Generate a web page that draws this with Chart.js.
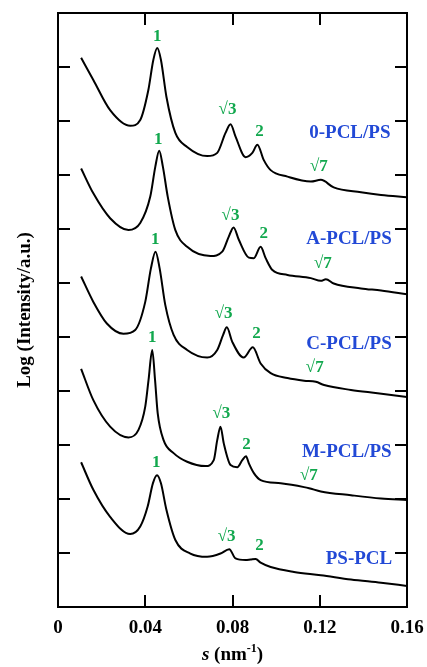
<!DOCTYPE html>
<html>
<head>
<meta charset="utf-8">
<script src="https://cdn.jsdelivr.net/npm/chart.js@4.4.1/dist/chart.umd.min.js"></script>
<style>
  html, body { margin: 0; padding: 0; background: #fff; }
  #wrap { width: 427px; height: 667px; }
</style>
</head>
<body>
<div id="wrap"><canvas id="saxsChart"></canvas></div>
<script>
// s (nm^-1) and log intensity (offset, one tick = 1 unit) for each sample
const s0PCL = [0.0106, 0.0162, 0.0239, 0.0331, 0.0377, 0.0414, 0.0437, 0.0455, 0.0472, 0.0497, 0.0538, 0.0592, 0.0684, 0.0730, 0.0768, 0.0791, 0.0814, 0.0860, 0.0891, 0.0914, 0.0943, 0.0975, 0.1052, 0.1159, 0.1205, 0.1264, 0.1389, 0.1481, 0.1600];
const i0PCL = [10.17, 9.76, 9.20, 8.91, 9.02, 9.57, 10.13, 10.35, 10.13, 9.45, 8.78, 8.52, 8.35, 8.41, 8.78, 8.94, 8.71, 8.33, 8.41, 8.56, 8.28, 8.09, 7.97, 7.88, 7.91, 7.77, 7.68, 7.63, 7.59];

const sAPCL = [0.0106, 0.0162, 0.0239, 0.0323, 0.0377, 0.0423, 0.0446, 0.0464, 0.0481, 0.0503, 0.0538, 0.0592, 0.0699, 0.0753, 0.0783, 0.0805, 0.0829, 0.0875, 0.0898, 0.0929, 0.0952, 0.0983, 0.1052, 0.1159, 0.1205, 0.1228, 0.1264, 0.1389, 0.1481, 0.1600];
const iAPCL = [8.12, 7.66, 7.20, 6.98, 7.11, 7.60, 8.15, 8.45, 8.15, 7.60, 6.98, 6.67, 6.50, 6.58, 6.86, 7.03, 6.80, 6.47, 6.46, 6.67, 6.46, 6.24, 6.15, 6.09, 6.04, 6.07, 5.99, 5.90, 5.86, 5.79];

const sCPCL = [0.0106, 0.0162, 0.0224, 0.0300, 0.0354, 0.0400, 0.0426, 0.0447, 0.0466, 0.0492, 0.0530, 0.0592, 0.0684, 0.0730, 0.0757, 0.0774, 0.0799, 0.0851, 0.0893, 0.0929, 0.0975, 0.1052, 0.1128, 0.1182, 0.1220, 0.1343, 0.1465, 0.1600];
const iCPCL = [6.12, 5.65, 5.25, 5.06, 5.13, 5.65, 6.27, 6.58, 6.27, 5.59, 5.04, 4.76, 4.62, 4.76, 5.04, 5.18, 4.91, 4.62, 4.81, 4.51, 4.33, 4.24, 4.19, 4.17, 4.11, 4.02, 3.96, 3.89];

const sMPCL = [0.0106, 0.0162, 0.0239, 0.0323, 0.0369, 0.0400, 0.0415, 0.0432, 0.0445, 0.0457, 0.0484, 0.0530, 0.0592, 0.0676, 0.0714, 0.0730, 0.0745, 0.0760, 0.0791, 0.0822, 0.0845, 0.0862, 0.0875, 0.0898, 0.0929, 0.1021, 0.1128, 0.1151, 0.1205, 0.1343, 0.1481, 0.1600];
const iMPCL = [4.41, 3.83, 3.34, 3.14, 3.28, 3.71, 4.20, 4.76, 4.20, 3.59, 3.09, 2.85, 2.69, 2.61, 2.72, 3.09, 3.34, 3.03, 2.63, 2.59, 2.72, 2.79, 2.66, 2.48, 2.35, 2.29, 2.22, 2.20, 2.14, 2.07, 2.01, 1.98];

const sPSPCL = [0.0106, 0.0162, 0.0239, 0.0331, 0.0377, 0.0411, 0.0435, 0.0454, 0.0472, 0.0497, 0.0538, 0.0607, 0.0684, 0.0745, 0.0785, 0.0814, 0.0860, 0.0883, 0.0906, 0.0929, 0.0975, 0.1082, 0.1205, 0.1343, 0.1481, 0.1600];
const iPSPCL = [2.68, 2.17, 1.67, 1.35, 1.49, 1.86, 2.29, 2.44, 2.29, 1.80, 1.24, 0.99, 0.93, 0.99, 1.07, 0.90, 0.87, 0.88, 0.89, 0.82, 0.74, 0.65, 0.59, 0.51, 0.45, 0.39];

const xTickValues = [0, 0.04, 0.08, 0.12, 0.16];
const yTickValues = [0, 1, 2, 3, 4, 5, 6, 7, 8, 9, 10, 11];

// peak index labels: text, s, log I
const peakText = ['1', '√3', '2', '√7', '1', '√3', '2', '√7', '1', '√3', '2', '√7', '1', '√3', '2', '√7', '1', '√3', '2'];
const peakS = [0.0455, 0.0777, 0.0924, 0.1196, 0.0460, 0.0791, 0.0943, 0.1214, 0.0446, 0.0759, 0.0910, 0.1177, 0.0432, 0.0749, 0.0864, 0.1150, 0.0450, 0.0773, 0.0924];
const peakI = [10.57, 9.22, 8.80, 8.15, 8.65, 7.24, 6.91, 6.35, 6.80, 5.44, 5.06, 4.44, 4.98, 3.59, 3.00, 2.43, 2.67, 1.31, 1.13];

const sampleNames = ['0-PCL/PS', 'A-PCL/PS', 'C-PCL/PS', 'M-PCL/PS', 'PS-PCL'];
const nameS = [0.1338, 0.1334, 0.1334, 0.1324, 0.1380];
const nameI = [8.78, 6.81, 4.87, 2.87, 0.89];

const SERIF = '"Liberation Serif", "Times New Roman", serif';
const GREEN = '#12a84e';
const BLUE = '#2249d6';

function pts(xs, ys) {
  return xs.map((x, i) => ({ x: x, y: ys[i] }));
}

const frameAndLabels = {
  id: 'frameAndLabels',
  afterDatasetsDraw(chart) {
    const ctx = chart.ctx;
    const a = chart.chartArea;
    const xs = chart.scales.x, ys = chart.scales.y;
    const tl = 12;
    ctx.save();
    ctx.strokeStyle = '#000';
    ctx.lineWidth = 2;
    ctx.strokeRect(a.left, a.top, a.right - a.left, a.bottom - a.top);
    ctx.beginPath();
    yTickValues.forEach(v => {
      const py = Math.round(ys.getPixelForValue(v));
      ctx.moveTo(a.left, py); ctx.lineTo(a.left + tl, py);
      ctx.moveTo(a.right, py); ctx.lineTo(a.right - tl, py);
    });
    xTickValues.forEach(v => {
      const px = Math.round(xs.getPixelForValue(v));
      ctx.moveTo(px, a.top); ctx.lineTo(px, a.top + tl);
      ctx.moveTo(px, a.bottom); ctx.lineTo(px, a.bottom - tl);
    });
    ctx.stroke();

    ctx.textAlign = 'center';
    ctx.textBaseline = 'middle';
    ctx.fillStyle = GREEN;
    ctx.font = 'bold 17px ' + SERIF;
    peakText.forEach((t, i) => {
      ctx.fillText(t, xs.getPixelForValue(peakS[i]), ys.getPixelForValue(peakI[i]));
    });
    ctx.fillStyle = BLUE;
    ctx.font = 'bold 19px ' + SERIF;
    sampleNames.forEach((t, i) => {
      ctx.fillText(t, xs.getPixelForValue(nameS[i]), ys.getPixelForValue(nameI[i]));
    });

    // x axis title: s (nm-1) with italic s and superscript
    const parts = [
      { t: 's', f: 'italic bold 19px ' + SERIF, dy: 0 },
      { t: ' (nm', f: 'bold 19px ' + SERIF, dy: 0 },
      { t: '-1', f: 'bold 12px ' + SERIF, dy: -8 },
      { t: ')', f: 'bold 19px ' + SERIF, dy: 0 }
    ];
    let total = 0;
    parts.forEach(p => { ctx.font = p.f; p.w = ctx.measureText(p.t).width; total += p.w; });
    let cx = (a.left + a.right) / 2 - total / 2;
    const base = 660;
    ctx.fillStyle = '#000';
    ctx.textAlign = 'left';
    ctx.textBaseline = 'alphabetic';
    parts.forEach(p => {
      ctx.font = p.f;
      ctx.fillText(p.t, cx, base + p.dy);
      cx += p.w;
    });
    ctx.restore();
  }
};

const line = (xs, ys) => ({
  data: pts(xs, ys),
  borderColor: '#000',
  borderWidth: 2,
  pointRadius: 0,
  fill: false,
  cubicInterpolationMode: 'monotone'
});

new Chart(document.getElementById('saxsChart'), {
  type: 'line',
  data: {
    datasets: [
      line(s0PCL, i0PCL),
      line(sAPCL, iAPCL),
      line(sCPCL, iCPCL),
      line(sMPCL, iMPCL),
      line(sPSPCL, iPSPCL)
    ]
  },
  options: {
    responsive: true,
    maintainAspectRatio: false,
    animation: false,
    layout: { padding: { top: 13, right: 20, left: 0, bottom: 0 } },
    scales: {
      x: {
        type: 'linear',
        min: 0,
        max: 0.16,
        afterBuildTicks: (s) => { s.ticks = xTickValues.map(v => ({ value: v })); },
        afterFit: (s) => { s.height = 60; s.paddingLeft = 0; s.paddingRight = 0; },
        grid: { display: false, drawTicks: false },
        border: { display: false },
        ticks: {
          padding: 10,
          color: '#000',
          font: { family: SERIF, size: 19, weight: 'bold' },
          callback: (v) => v === 0 ? '0' : v.toFixed(2),
          maxRotation: 0
        }
      },
      y: {
        min: 0,
        max: 11,
        afterFit: (s) => { s.width = 58; s.paddingTop = 0; s.paddingBottom = 0; },
        grid: { display: false, drawTicks: false },
        border: { display: false },
        ticks: { display: false },
        title: {
          display: true,
          text: 'Log (Intensity/a.u.)',
          color: '#000',
          padding: { top: 14, bottom: 0 },
          font: { family: SERIF, size: 19, weight: 'bold' }
        }
      }
    },
    plugins: {
      legend: { display: false },
      tooltip: { enabled: false }
    }
  },
  plugins: [frameAndLabels]
});
</script>
</body>
</html>
